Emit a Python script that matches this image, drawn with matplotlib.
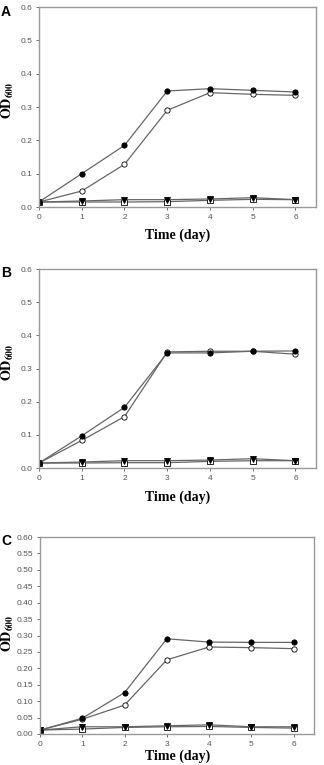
import matplotlib
matplotlib.use('Agg')
import matplotlib.pyplot as plt

plt.rcParams['mathtext.fontset'] = 'stix'
plt.rcParams['font.family'] = 'Liberation Sans'

days = [0, 1, 2, 3, 4, 5, 6]

# panel A
a_filled = [0.015, 0.100, 0.185, 0.348, 0.355, 0.350, 0.345]
a_open = [0.015, 0.048, 0.128, 0.290, 0.343, 0.338, 0.335]
a_low_filled = [0.015, 0.018, 0.022, 0.022, 0.024, 0.028, 0.022]
a_low_open = [0.015, 0.015, 0.015, 0.016, 0.020, 0.023, 0.022]

# panel B
b_filled = [0.015, 0.097, 0.183, 0.347, 0.347, 0.352, 0.353]
b_open = [0.015, 0.083, 0.155, 0.350, 0.352, 0.352, 0.343]
b_low_filled = [0.015, 0.018, 0.022, 0.022, 0.024, 0.028, 0.022]
b_low_open = [0.015, 0.015, 0.016, 0.016, 0.020, 0.022, 0.022]

# panel C
c_filled = [0.012, 0.048, 0.126, 0.290, 0.280, 0.279, 0.279]
c_open = [0.012, 0.045, 0.088, 0.226, 0.265, 0.263, 0.260]
c_low_filled = [0.012, 0.022, 0.022, 0.025, 0.028, 0.022, 0.022]
c_low_open = [0.012, 0.015, 0.020, 0.022, 0.023, 0.020, 0.018]

y_ticks_ab = [0.0, 0.1, 0.2, 0.3, 0.4, 0.5, 0.6]
y_ticks_c = [i * 0.05 for i in range(13)]

W, H = 324, 765
fig = plt.figure(figsize=(W / 100, H / 100), dpi=100)

line_col = '#666666'
spine_col = '#999999'
tick_col = '#555555'


def px_axes(left, top, right, bottom):
    return fig.add_axes([left / W, 1 - bottom / H, (right - left) / W, (bottom - top) / H])


def draw_panel(ax, filled, opened, low_f, low_o, yticks, fmt):
    kw = dict(color=line_col, lw=0.9, ms=3.8, mec='black', mew=0.6)
    ax.plot(days, low_o, marker='s', mfc='white', **kw)
    ax.plot(days, low_f, marker='v', mfc='black', **kw)
    ax.plot(days, opened, marker='o', mfc='white', **kw)
    ax.plot(days, filled, marker='o', mfc='black', **kw)
    ax.set_xlim(0, 6.48)
    ax.set_ylim(0, 0.6)
    ax.set_xticks(days)
    ax.set_yticks(yticks)
    ax.set_yticklabels([fmt.format(v) for v in yticks])
    for s in ax.spines.values():
        s.set_color(spine_col)
        s.set_linewidth(1.0)
    ax.tick_params(labelsize=6, colors=tick_col, length=2, width=0.6, pad=3)


axA = px_axes(39, 7, 316, 207)
draw_panel(axA, a_filled, a_open, a_low_filled, a_low_open, y_ticks_ab, '{:.1f}')
axB = px_axes(39, 269, 316, 468)
draw_panel(axB, b_filled, b_open, b_low_filled, b_low_open, y_ticks_ab, '{:.1f}')
axC = px_axes(40, 537, 314, 734)
draw_panel(axC, c_filled, c_open, c_low_filled, c_low_open, y_ticks_c, '{:.2f}')

label_kw = dict(fontsize=10, fontweight='bold', family='Liberation Serif')
for letter, ytop, ymid, ytime in [('A', 12, 100, 235), ('B', 273, 362, 497), ('C', 541, 633, 756)]:
    fig.text(1 / W, 1 - ytop / H, letter, fontsize=10, fontweight='bold',
             family='Liberation Sans', va='center', ha='left')
    fig.text(8 / W, 1 - ymid / H, r'$\mathbf{OD_{600}}$', rotation=90,
             fontsize=10, va='center', ha='center')
    fig.text(178 / W, 1 - ytime / H, 'Time (day)', va='center', ha='center', **label_kw)

fig.savefig('out.png', dpi=100)
